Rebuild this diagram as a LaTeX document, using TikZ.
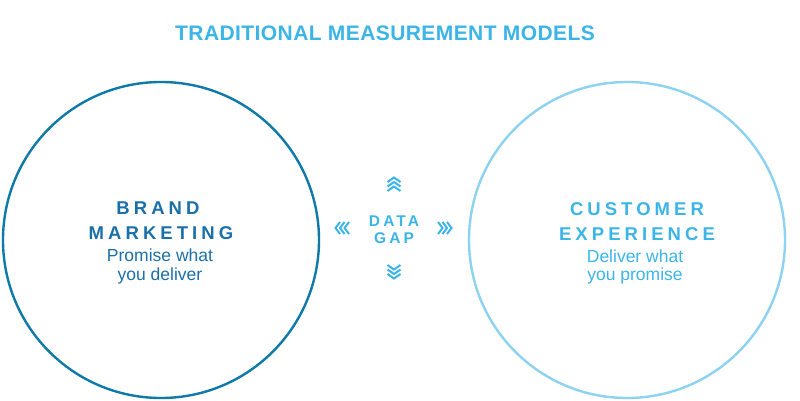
\documentclass[tikz,border=0pt]{standalone}
\usepackage{fontspec}
\setmainfont{Liberation Sans}
\definecolor{darkcirc}{HTML}{0E7AA8}
\definecolor{darktext}{HTML}{1B6FA8}
\definecolor{lightcirc}{HTML}{8DD3F1}
\definecolor{lighttext}{HTML}{3BB4E8}
\tikzset{
  headtext/.style={anchor=base, inner sep=0pt, font=\fontsize{18.5}{18.5}\selectfont\bfseries\addfontfeature{LetterSpace=22}},
  subtext/.style={anchor=base, inner sep=0pt, font=\fontsize{17.5}{17.5}\selectfont},
  gaptext/.style={anchor=base, inner sep=0pt, text=lighttext, font=\fontsize{15.5}{15.5}\selectfont\bfseries\addfontfeature{LetterSpace=20}},
  chev/.style={draw=lighttext, line width=2pt, line cap=butt, line join=miter}
}
\begin{document}
\begin{tikzpicture}[x=1pt,y=-1pt]
\useasboundingbox (0,0) rectangle (800,401);
\node[anchor=base, inner sep=0pt, text=lighttext, font=\fontsize{21}{21}\selectfont\bfseries\addfontfeature{LetterSpace=2}] (title) at (385,41) {TRADITIONAL MEASUREMENT MODELS};
\node[draw=darkcirc, line width=2.4pt, circle, minimum size=316pt, inner sep=0pt] (brand) at (161,240) {};
\node[draw=lightcirc, line width=2.4pt, circle, minimum size=316pt, inner sep=0pt] (cx) at (627,240) {};
% left texts
\node[headtext, text=darktext] (b1) at (158,214) {BRAND};
\node[headtext, text=darktext] (b2) at (161,239) {MARKETING};
\node[subtext, text=darktext] (b3) at (160,261) {Promise what};
\node[subtext, text=darktext] (b4) at (160,280) {you deliver};
% right texts
\node[headtext, text=lighttext] (c1) at (637,215) {CUSTOMER};
\node[headtext, text=lighttext] (c2) at (637,240) {EXPERIENCE};
\node[subtext, text=lighttext] (c3) at (635,262) {Deliver what};
\node[subtext, text=lighttext] (c4) at (635,280) {you promise};
% data gap
\node[gaptext] (g1) at (394,226) {DATA};
\node[gaptext] (g2) at (394,243) {GAP};
% chevrons
\coordinate (up) at (394,177);
\coordinate (dn) at (394,279);
\coordinate (lf) at (335,228);
\coordinate (rt) at (452,228);
\foreach \k in {0,1,2} {
  \draw[chev] ([shift={(-6.5,5+4.5*\k)}]up) -- ([shift={(0,0.5+4.5*\k)}]up) -- ([shift={(6.5,5+4.5*\k)}]up);
  \draw[chev] ([shift={(-6.5,-5-4.5*\k)}]dn) -- ([shift={(0,-0.5-4.5*\k)}]dn) -- ([shift={(6.5,-5-4.5*\k)}]dn);
  \draw[chev] ([shift={(5+4.5*\k,-6)}]lf) -- ([shift={(0.5+4.5*\k,0)}]lf) -- ([shift={(5+4.5*\k,6)}]lf);
  \draw[chev] ([shift={(-5-4.5*\k,-6)}]rt) -- ([shift={(-0.5-4.5*\k,0)}]rt) -- ([shift={(-5-4.5*\k,6)}]rt);
}
\end{tikzpicture}
\end{document}
